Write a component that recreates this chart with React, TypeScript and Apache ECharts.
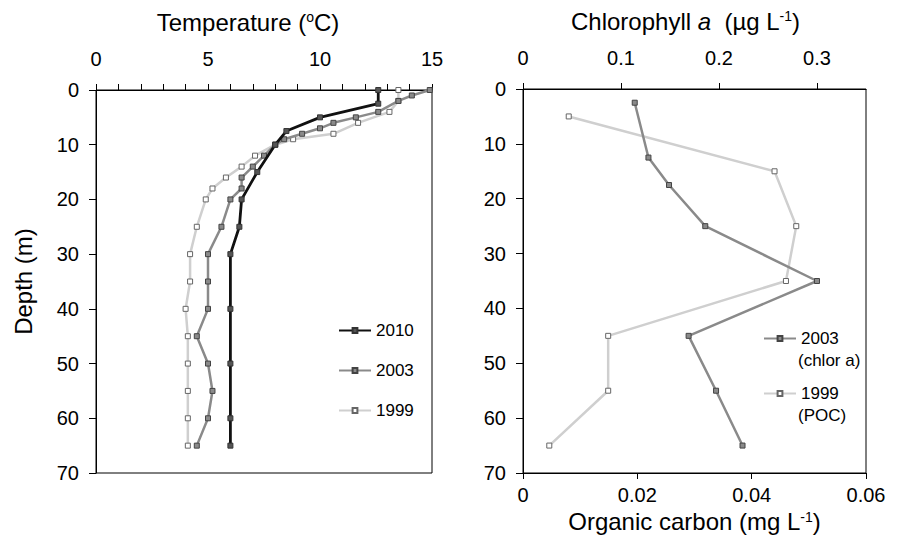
import React, { useEffect, useRef } from 'react';
import * as echarts from 'echarts';

// ---- Data ----
const depth2010 = [0, 2.5, 5, 7.5, 10, 15, 20, 25, 30, 40, 50, 60, 65];
const temp2010 = [12.6, 12.6, 10.0, 8.5, 8.0, 7.2, 6.5, 6.4, 6.0, 6.0, 6.0, 6.0, 6.0];

const depth2003 = [0, 1, 2, 4, 5, 6, 7, 8, 9, 10, 12, 14, 16, 18, 20, 25, 30, 35, 40, 45, 50, 55, 60, 65];
const temp2003 = [14.9, 14.1, 13.5, 12.6, 11.6, 10.6, 10.0, 9.2, 8.4, 8.0, 7.5, 7.0, 6.5, 6.5, 6.0, 5.6, 5.0, 5.0, 5.0, 4.5, 5.0, 5.2, 5.0, 4.5];

const depth1999 = [0, 2, 4, 6, 8, 9, 10, 12, 14, 16, 18, 20, 25, 30, 35, 40, 45, 50, 55, 60, 65];
const temp1999 = [13.5, 13.5, 13.1, 11.7, 10.6, 8.8, 8.0, 7.1, 6.5, 5.8, 5.2, 4.9, 4.5, 4.2, 4.2, 4.0, 4.1, 4.1, 4.1, 4.1, 4.1];

const depthChl = [2.5, 12.5, 17.5, 25, 35, 45, 55, 65];
const chl2003 = [0.114, 0.128, 0.149, 0.186, 0.3, 0.169, 0.197, 0.224];

const depthPoc = [5, 15, 25, 35, 45, 55, 65];
const poc1999 = [0.008, 0.044, 0.0478, 0.046, 0.0149, 0.0149, 0.0046];

const tempTicks = [0, 5, 10, 15];
const chlTicks = [0, 0.1, 0.2, 0.3];
const pocTicks = [0, 0.02, 0.04, 0.06];
const depthTicks = [0, 10, 20, 30, 40, 50, 60, 70];

const zip = (xs: number[], ys: number[]) => xs.map((x, i) => [x, ys[i]]);

const FONT = 'Liberation Sans, Arial, Helvetica, sans-serif';

export default function App() {
  const ref = useRef<HTMLDivElement>(null);

  useEffect(() => {
    document.body.style.margin = '0';
    if (!ref.current) return;
    const chart = echarts.init(ref.current, undefined, { renderer: 'svg' });

    const axisLine = { show: true, lineStyle: { color: '#000', width: 1 } };
    const label = { color: '#000', fontSize: 20, fontFamily: FONT };
    const nameRich = {
      sup: { fontSize: 14, fontFamily: FONT, color: '#000', verticalAlign: 'top' as const, lineHeight: 12 },
      it: { fontSize: 24, fontFamily: FONT, color: '#000', fontStyle: 'italic' as const },
    };
    const nameStyle = { color: '#000', fontSize: 24, fontFamily: FONT, rich: nameRich };

    const yAxisBase = (gridIndex: number) => ({
      type: 'value' as const,
      gridIndex,
      inverse: true,
      min: depthTicks[0],
      max: depthTicks[depthTicks.length - 1],
      interval: 10,
      axisLine,
      axisTick: { show: true, inside: false, length: 7, lineStyle: { color: '#000' } },
      axisLabel: { ...label, margin: 17 },
      splitLine: { show: false },
    });

    const sym = (fill: string, border: string) => ({ color: fill, borderColor: border, borderWidth: 1 });

    const option: any = {
      animation: false,
      backgroundColor: '#fff',
      textStyle: { fontFamily: FONT },
      grid: [
        { left: 96, top: 90, width: 336, height: 383, show: true, borderColor: '#000', borderWidth: 1, backgroundColor: 'transparent' },
        { left: 523, top: 89, width: 343, height: 384, show: true, borderColor: '#000', borderWidth: 1, backgroundColor: 'transparent' },
      ],
      xAxis: [
        {
          type: 'value', gridIndex: 0, position: 'top',
          min: tempTicks[0], max: tempTicks[tempTicks.length - 1], interval: 5,
          axisLine,
          axisTick: { show: true, inside: false, length: 6, lineStyle: { color: '#000' } },
          minorTick: { show: true, splitNumber: 5, length: 6, lineStyle: { color: '#000' } },
          axisLabel: { ...label, margin: 21 },
          splitLine: { show: false },
          name: 'Temperature ({sup|o}C)',
          nameLocation: 'middle', nameGap: 56, nameTextStyle: { ...nameStyle, padding: [0, 32, 0, 0] },
        },
        {
          type: 'value', gridIndex: 1, position: 'top',
          min: 0, max: 0.35, interval: 0.1,
          axisLine,
          axisTick: { show: true, inside: false, length: 6, lineStyle: { color: '#000' }, customValues: chlTicks },
          axisLabel: { ...label, margin: 21, customValues: chlTicks, formatter: (v: number) => String(Math.round(v * 10) / 10) },
          splitLine: { show: false },
          name: 'Chlorophyll {it|a}  (µg L{sup|-1})',
          nameLocation: 'middle', nameGap: 56, nameTextStyle: { ...nameStyle, padding: [0, 18, 0, 0] },
        },
        {
          type: 'value', gridIndex: 1, position: 'bottom',
          min: pocTicks[0], max: pocTicks[pocTicks.length - 1], interval: 0.02,
          axisLine,
          axisTick: { show: true, inside: false, length: 6, lineStyle: { color: '#000' } },
          axisLabel: { ...label, margin: 12 },
          splitLine: { show: false },
          name: 'Organic carbon (mg L{sup|-1})',
          nameLocation: 'middle', nameGap: 33, nameTextStyle: nameStyle,
        },
      ],
      yAxis: [
        { ...yAxisBase(0), name: 'Depth (m)', nameLocation: 'middle', nameGap: 61, nameRotate: 90, nameTextStyle: nameStyle },
        yAxisBase(1),
      ],
      legend: [
        {
          orient: 'vertical', left: 338, top: 322, padding: 0, itemWidth: 32, itemHeight: 6, itemGap: 23,
          textStyle: { color: '#000', fontSize: 17, fontFamily: FONT },
          data: ['2010', '2003', '1999'],
        },
        {
          orient: 'vertical', left: 763, top: 330, padding: 0, itemWidth: 32, itemHeight: 6, itemGap: 38,
          textStyle: { color: '#000', fontSize: 17, fontFamily: FONT },
          formatter: (n: string) => n.split(' ')[0],
          data: ['2003 (chlor a)', '1999 (POC)'],
        },
      ],
      graphic: [
        { type: 'text', left: 798, top: 352, style: { text: '(chlor a)', fill: '#000', fontSize: 17, fontFamily: FONT } },
        { type: 'text', left: 798, top: 407, style: { text: '(POC)', fill: '#000', fontSize: 17, fontFamily: FONT } },
      ],
      series: [
        {
          name: '1999', type: 'line', xAxisIndex: 0, yAxisIndex: 0, data: zip(temp1999, depth1999),
          symbol: 'rect', symbolSize: 5, lineStyle: { color: '#cfcfcf', width: 2.5 }, itemStyle: sym('#ffffff', '#666'), z: 2,
        },
        {
          name: '2003', type: 'line', xAxisIndex: 0, yAxisIndex: 0, data: zip(temp2003, depth2003),
          symbol: 'rect', symbolSize: 5, lineStyle: { color: '#8a8a8a', width: 2.5 }, itemStyle: sym('#8a8a8a', '#444'), z: 3,
        },
        {
          name: '2010', type: 'line', xAxisIndex: 0, yAxisIndex: 0, data: zip(temp2010, depth2010),
          symbol: 'rect', symbolSize: 5, lineStyle: { color: '#111', width: 2.8 }, itemStyle: sym('#555', '#333'), z: 4,
        },
        {
          name: '1999 (POC)', type: 'line', xAxisIndex: 2, yAxisIndex: 1, data: zip(poc1999, depthPoc),
          symbol: 'rect', symbolSize: 5, lineStyle: { color: '#cfcfcf', width: 2.5 }, itemStyle: sym('#ffffff', '#666'), z: 2,
        },
        {
          name: '2003 (chlor a)', type: 'line', xAxisIndex: 1, yAxisIndex: 1, data: zip(chl2003, depthChl),
          symbol: 'rect', symbolSize: 5, lineStyle: { color: '#8a8a8a', width: 2.5 }, itemStyle: sym('#8a8a8a', '#444'), z: 3,
        },
      ],
    };

    chart.setOption(option);
    return () => chart.dispose();
  }, []);

  return <div ref={ref} style={{ width: 898, height: 552 }} />;
}
